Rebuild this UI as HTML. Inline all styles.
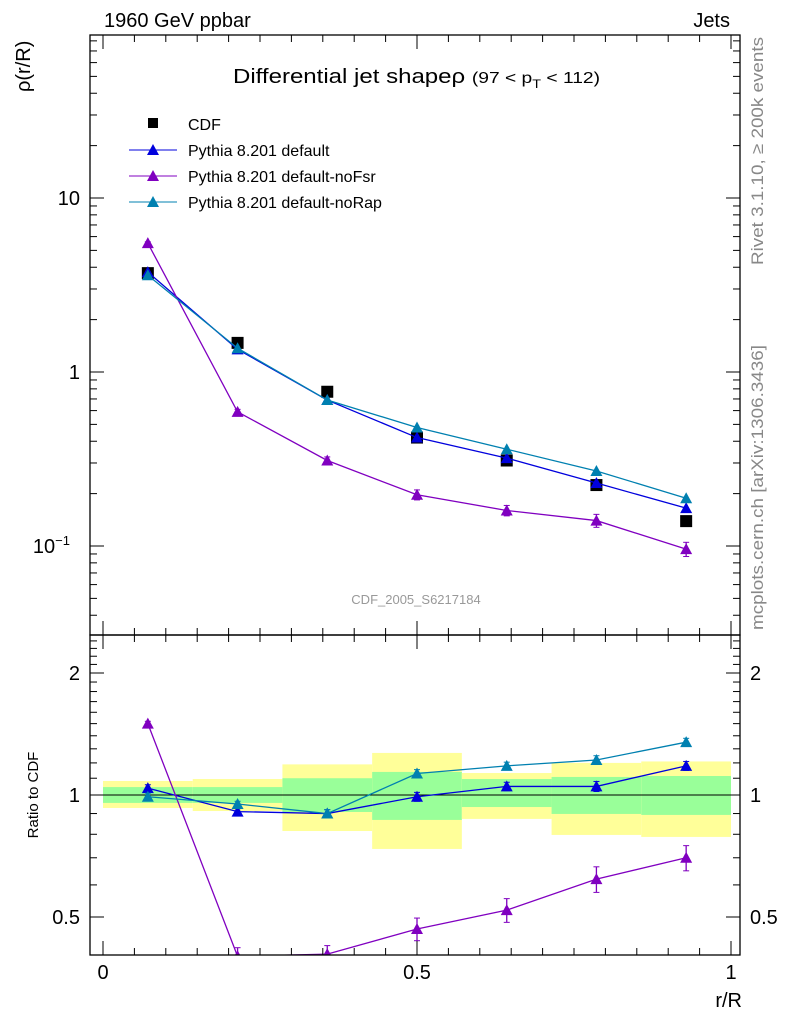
<!DOCTYPE html>
<html><head><meta charset="utf-8"><style>
body{margin:0;background:#fff;}
svg{display:block;font-family:"Liberation Sans",sans-serif;}
</style></head><body>
<svg id="c" width="786" height="1024" viewBox="0 0 786 1024">
<text x="104" y="27" font-size="20">1960 GeV ppbar</text>
<text x="730" y="27" font-size="20" text-anchor="end">Jets</text>
<text x="233" y="83" font-size="20" textLength="367" lengthAdjust="spacingAndGlyphs">Differential jet shapeρ <tspan font-size="16">(97 &lt; p</tspan><tspan font-size="12" dy="5">T</tspan><tspan font-size="16" dy="-5"> &lt; 112)</tspan></text>
<text transform="translate(30,92) rotate(-90)" font-size="20">ρ(r/R)</text>
<text transform="translate(38,795) rotate(-90)" font-size="15" text-anchor="middle">Ratio to CDF</text>
<text x="742" y="1007" font-size="20" text-anchor="end">r/R</text>
<text transform="translate(763,265) rotate(-90)" font-size="17" fill="#888" textLength="228" lengthAdjust="spacingAndGlyphs">Rivet 3.1.10, ≥ 200k events</text>
<text transform="translate(763,630) rotate(-90)" font-size="17" fill="#888" textLength="285" lengthAdjust="spacingAndGlyphs">mcplots.cern.ch [arXiv:1306.3436]</text>
<text x="416" y="604" font-size="13" fill="#999" text-anchor="middle">CDF_2005_S6217184</text>
<g id="legend">
<rect x="148" y="118" width="10" height="10" fill="#000"/>
<text x="188" y="130" font-size="16">CDF</text>
<line x1="129" y1="150" x2="177" y2="150" stroke="#0000dd"/>
<path d="M147,155 L159,155 L153,144Z" fill="#0000dd"/>
<text x="188" y="156" font-size="16">Pythia 8.201 default</text>
<line x1="129" y1="176" x2="177" y2="176" stroke="#8000c0"/>
<path d="M147,181 L159,181 L153,170Z" fill="#8000c0"/>
<text x="188" y="182" font-size="16">Pythia 8.201 default-noFsr</text>
<line x1="129" y1="202" x2="177" y2="202" stroke="#0080b0"/>
<path d="M147,207 L159,207 L153,196Z" fill="#0080b0"/>
<text x="188" y="208" font-size="16">Pythia 8.201 default-noRap</text>
</g>
</svg>
<script>
const xCenters=[0.0714,0.2143,0.3571,0.5,0.6429,0.7857,0.9286];
const binEdges=[0,0.1429,0.2857,0.4286,0.5714,0.7143,0.8571,1];
const cdfVals=[3.7,1.47,0.77,0.42,0.31,0.224,0.139];
const defaultVals=[3.75,1.35,0.69,0.42,0.32,0.23,0.165];
const noFsrVals=[5.5,0.59,0.31,0.197,0.16,0.14,0.096];
const noRapVals=[3.6,1.37,0.69,0.48,0.36,0.27,0.188];
const noFsrErr=[0.1,0.02,0.015,0.013,0.011,0.012,0.009];
const ratioDefault=[1.04,0.91,0.90,0.99,1.05,1.05,1.18];
const ratioNoFsr=[1.5,0.40,0.405,0.467,0.52,0.62,0.70];
const ratioNoRap=[0.99,0.95,0.90,1.13,1.18,1.22,1.35];
const ratioNoFsrErr=[0.02,0.02,0.02,0.03,0.035,0.045,0.05];
const ratioErr=[0.02,0.015,0.02,0.025,0.025,0.03,0.03];
const bandTotLo=[0.929,0.913,0.815,0.736,0.873,0.797,0.788];
const bandTotHi=[1.083,1.095,1.19,1.27,1.133,1.20,1.21];
const bandStatLo=[0.956,0.956,0.908,0.868,0.934,0.898,0.893];
const bandStatHi=[1.046,1.046,1.10,1.14,1.095,1.108,1.114];
const mainTicks=[0.1,1,10];
const ratioTicks=[0.5,1,2];
const xTicks=[0,0.5,1];

const NS="http://www.w3.org/2000/svg";
const svg=document.getElementById('c');
const X=v=>103+628*v;
const YM=v=>372-174*Math.log10(v);
const YR=v=>795-122*Math.log2(v);
const L=90,R=740,MT=35,MB=635,RB=955;
function mk(tag,attrs,parent){const e=document.createElementNS(NS,tag);for(const k in attrs)e.setAttribute(k,attrs[k]);(parent||svg).appendChild(e);return e;}
const clipM=mk('clipPath',{id:'cm'});mk('rect',{x:L,y:MT,width:R-L,height:MB-MT},clipM);
const clipR=mk('clipPath',{id:'cr'});mk('rect',{x:L,y:MB,width:R-L,height:RB-MB},clipR);

const gb=mk('g',{'clip-path':'url(#cr)'});


for(let i=0;i<7;i++){
 const a=mk('rect',{x:X(binEdges[i]),width:X(binEdges[i+1])-X(binEdges[i]),y:YR(bandTotHi[i]),height:YR(bandTotLo[i])-YR(bandTotHi[i]),fill:'#ffff99'},gb);
 
 
 const b=mk('rect',{x:X(binEdges[i]),width:X(binEdges[i+1])-X(binEdges[i]),y:YR(bandStatHi[i]),height:YR(bandStatLo[i])-YR(bandStatHi[i]),fill:'#99ff99'},gb);
 
 
}
const one=mk('line',{x1:L,x2:R,y1:YR(1),y2:YR(1),stroke:'#000'});



function series(vals,err,Y,color,name,clip){
 const g=mk('g',{'clip-path':clip});
 
 
 mk('polyline',{points:vals.map((v,i)=>X(xCenters[i])+','+Y(v)).join(' '),fill:'none',stroke:color,'stroke-width':1.3},g);
 vals.forEach((v,i)=>{const x=X(xCenters[i]),y=Y(v);
  if(err){mk('line',{x1:x,x2:x,y1:Y(v+err[i]),y2:Y(Math.max(v-err[i],1e-3)),stroke:color,'stroke-width':1.3},g);
   mk('line',{x1:x-3,x2:x+3,y1:Y(v+err[i]),y2:Y(v+err[i]),stroke:color},g);
   mk('line',{x1:x-3,x2:x+3,y1:Y(v-err[i]),y2:Y(v-err[i]),stroke:color},g);}
  const p=mk('path',{d:`M${x-6},${y+5} L${x+6},${y+5} L${x},${y-6}Z`,fill:color},g);
  
  
 });
}
const gc=mk('g',{'clip-path':'url(#cm)'});


cdfVals.forEach((v,i)=>{const r=mk('rect',{x:X(xCenters[i])-6,y:YM(v)-6,width:12,height:12,fill:'#000'},gc);
 
 });
series(defaultVals,null,YM,'#0000dd','default-series','url(#cm)');
series(noFsrVals,noFsrErr,YM,'#8000c0','nofsr-series','url(#cm)');
series(noRapVals,null,YM,'#0080b0','norap-series','url(#cm)');
series(ratioDefault,ratioErr,YR,'#0000dd','ratio-default','url(#cr)');
series(ratioNoFsr,ratioNoFsrErr,YR,'#8000c0','ratio-nofsr','url(#cr)');
series(ratioNoRap,ratioErr,YR,'#0080b0','ratio-norap','url(#cr)');

const f1=mk('rect',{x:L,y:MT,width:R-L,height:MB-MT,fill:'none',stroke:'#000','stroke-width':1.3});


const f2=mk('rect',{x:L,y:MB,width:R-L,height:RB-MB,fill:'none',stroke:'#000','stroke-width':1.3});


for(let d=-2;d<=1;d++)for(let m=1;m<10;m++){const v=m*Math.pow(10,d),y=YM(v);if(y<MT||y>MB)continue;const len=m==1?14:7;
 mk('line',{x1:L,x2:L+len,y1:y,y2:y,stroke:'#000'});mk('line',{x1:R,x2:R-len,y1:y,y2:y,stroke:'#000'});}
mainTicks.forEach(v=>{const t=mk('text',{x:80,y:YM(v)+7,'font-size':20,'text-anchor':'end'});
 
 
 if(v<1){t.innerHTML='10<tspan font-size="13" dy="-8">−1</tspan>';t.setAttribute('x',70);}else t.textContent=String(v);});
for(let v=0.4;v<=2.5;v+=0.1){const y=YR(v);if(y<MB||y>RB)continue;const maj=ratioTicks.some(t=>Math.abs(t-v)<1e-6);const len=maj?14:7;
 mk('line',{x1:L,x2:L+len,y1:y,y2:y,stroke:'#000'});mk('line',{x1:R,x2:R-len,y1:y,y2:y,stroke:'#000'});}
ratioTicks.forEach(v=>{const t=mk('text',{x:80,y:YR(v)+7,'font-size':20,'text-anchor':'end'});t.textContent=String(v);
 
 
 const t2=mk('text',{x:750,y:YR(v)+7,'font-size':20});t2.textContent=String(v);
 
 });
for(let k=-1;k<=21;k++){const v=k*0.05,x=X(v);if(x<L||x>R)continue;const len=k%10==0?14:7;
 [[MT,1],[MB,-1],[MB,1],[RB,-1]].forEach(([y,s])=>mk('line',{x1:x,x2:x,y1:y,y2:y+s*len,stroke:'#000'}));}
xTicks.forEach(v=>{const t=mk('text',{x:X(v),y:979,'font-size':20,'text-anchor':'middle'});t.textContent=String(v);
 
 });
</script>
</body></html>
